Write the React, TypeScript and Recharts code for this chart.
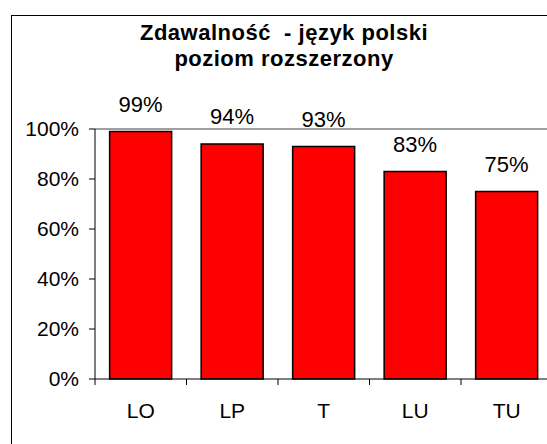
import { BarChart, Bar, XAxis, YAxis, ReferenceLine, LabelList } from 'recharts';

const schools = ['LO', 'LP', 'T', 'LU', 'TU'];
const passRate = [99, 94, 93, 83, 75];
const yTicks = [0, 20, 40, 60, 80, 100];

const data = schools.map((s, i) => ({ school: s, rate: passRate[i] }));

const FONT = '"Liberation Sans", Arial, sans-serif';
const BAND = 91.5; // szerokość kategorii w px

function CategoryTick(props: any) {
  const { x, payload } = props;
  const bx = x - BAND / 2;
  return (
    <g>
      <line x1={bx} x2={bx} y1={379} y2={385} stroke="#000" />
      <text x={x} y={418} textAnchor="middle" fontSize={21} fontFamily={FONT} fill="#000">
        {payload.value}
      </text>
    </g>
  );
}

export default function App() {
  return (
    <div style={{ position: 'absolute', left: 0, top: 0, width: 547, height: 444, overflow: 'hidden', background: '#fff' }}>
      {/* ramka wykresu, ucięta z prawej i u dołu */}
      <div style={{ position: 'absolute', left: 11, top: 15, width: 600, height: 500, border: '1px solid #000' }} />
      <div
        style={{
          position: 'absolute', left: 84, width: 400, top: 20, textAlign: 'center', whiteSpace: 'pre',
          fontFamily: FONT, fontWeight: 'bold', fontSize: 22, lineHeight: '26px', letterSpacing: 0.5,
          color: '#000',
        }}
      >
        {'Zdawalność  - język polski\npoziom rozszerzony'}
      </div>
      <div style={{ position: 'absolute', left: 0, top: 0 }}>
        <BarChart
          width={600}
          height={470}
          data={data}
          barCategoryGap="16%"
          margin={{ top: 129, right: 47.5, bottom: 51, left: 15 }}
        >
          <ReferenceLine y={100} stroke="#808080" strokeWidth={1.5} />
          <XAxis
            dataKey="school"
            height={40}
            axisLine={{ stroke: '#000' }}
            tickLine={false}
            tick={<CategoryTick />}
            interval={0}
          />
          <YAxis
            width={80}
            domain={[0, 100]}
            ticks={yTicks}
            interval={0}
            tickFormatter={(v: number) => `${v}%`}
            axisLine={{ stroke: '#000' }}
            tickLine={{ stroke: '#000' }}
            tickSize={6}
            tickMargin={10}
            tick={{ fontSize: 21, fill: '#000', fontFamily: FONT }}
          />
          <Bar dataKey="rate" fill="#ff0000" stroke="#000" strokeWidth={1.5} isAnimationActive={false}>
            <LabelList
              dataKey="rate"
              position="top"
              offset={20}
              formatter={(v: any) => `${v}%`}
              style={{ fontSize: 22, fill: '#000', fontFamily: FONT }}
            />
          </Bar>
        </BarChart>
      </div>
    </div>
  );
}
